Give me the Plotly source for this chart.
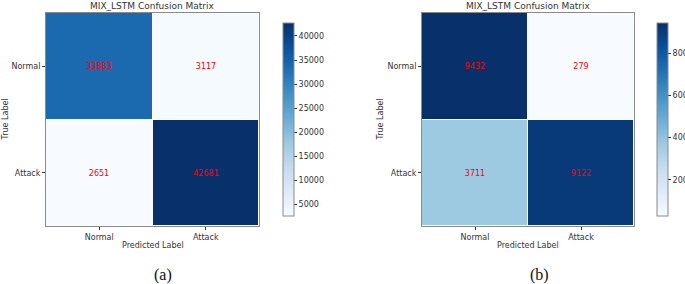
import plotly.graph_objects as go

W, H = 685, 284

classes = ["Normal", "Attack"]
cm_a = [[33883, 3117], [2651, 42681]]
cm_b = [[9432, 279], [3711, 9122]]
cbar_ticks_a = [5000, 10000, 15000, 20000, 25000, 30000, 35000, 40000]
cbar_ticks_b = [2000, 4000, 6000, 8000]
title_text = "MIX_LSTM Confusion Matrix"
panel_labels = ["(a)", "(b)"]

FONT = "DejaVu Sans"
TXT = "#333333"
FRAME = "#8a8a8a"

def px(x):
    return x / W

def py(y):
    return 1 - y / H

# pixel geometry
panels = [
    dict(x0=46, x1=259, cb=273, z=cm_a, ticks=cbar_ticks_a, lab_x=163, ytitle_x=5),
    dict(x0=422, x1=634, cb=647, z=cm_b, ticks=cbar_ticks_b, lab_x=539, ytitle_x=380),
]
top, bot = 13, 226

fig = go.Figure()
annotations = []
for i, p in enumerate(panels):
    xa = "x" if i == 0 else "x2"
    ya = "y" if i == 0 else "y2"
    fig.add_trace(go.Heatmap(
        z=p["z"], x=classes, y=classes,
        xaxis=xa, yaxis=ya,
        colorscale="Blues",
        xgap=1, ygap=1,
        texttemplate="%{z:d}",
        textfont=dict(color="red", size=8, family=FONT),
        hoverinfo="skip",
        colorbar=dict(
            x=px(p["cb"]), xanchor="left", xref="paper",
            y=py((top + bot) / 2), yanchor="middle",
            lenmode="pixels", len=bot - top,
            thickness=11, thicknessmode="pixels",
            outlinewidth=1, outlinecolor=FRAME,
            tickvals=p["ticks"], tickformat="d",
            ticks="outside", ticklen=3,
            tickcolor=TXT, tickwidth=0.8,
            tickfont=dict(size=8, family=FONT, color=TXT),
        ),
    ))
    axis_common = dict(
        showgrid=False, zeroline=False, showline=True, mirror=True,
        linecolor=FRAME, linewidth=1, ticks="outside", ticklen=3,
        tickcolor=TXT, tickwidth=0.8,
        tickfont=dict(size=8, family=FONT, color=TXT),
    )
    fig.update_layout(**{
        ("xaxis" if i == 0 else "xaxis2"): dict(
            domain=[px(p["x0"]), px(p["x1"])], anchor=ya, **axis_common),
        ("yaxis" if i == 0 else "yaxis2"): dict(
            domain=[py(bot), py(top)], anchor=xa, autorange="reversed",
            **axis_common),
    })
    cx = (p["x0"] + p["x1"]) / 2
    annotations += [
        dict(text=title_text, x=px(cx), y=py(6), xref="paper", yref="paper",
             showarrow=False, font=dict(size=9, family=FONT, color=TXT),
             xanchor="center", yanchor="middle"),
        dict(text="Predicted Label", x=px(cx), y=py(245), xref="paper", yref="paper",
             showarrow=False, font=dict(size=8, family=FONT, color=TXT),
             xanchor="center", yanchor="middle"),
        dict(text="True Label", x=px(p["ytitle_x"]), y=py((top + bot) / 2),
             xref="paper", yref="paper", textangle=-90,
             showarrow=False, font=dict(size=8, family=FONT, color=TXT),
             xanchor="center", yanchor="middle"),
        dict(text=panel_labels[i], x=px(p["lab_x"]), y=py(275), xref="paper", yref="paper",
             showarrow=False, font=dict(size=16, family="Liberation Serif", color="#111"),
             xanchor="center", yanchor="middle"),
    ]

fig.update_layout(
    width=W, height=H,
    margin=dict(l=0, r=0, t=0, b=0, autoexpand=False),
    paper_bgcolor="white", plot_bgcolor="white",
    annotations=annotations,
    showlegend=False,
)
fig.write_html("out.html", config={"displayModeBar": False},
               post_script="document.body.style.margin='0';")
